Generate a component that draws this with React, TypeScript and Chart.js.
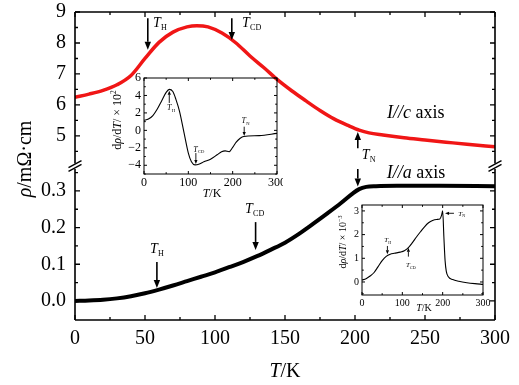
import React, { useEffect, useRef } from 'react';
import { Chart, registerables } from 'chart.js';
Chart.register(...registerables);

const SERIF = '"Liberation Serif", "Times New Roman", Times, serif';

// ---------- main chart data ----------
const T_C = [0, 10, 20, 30, 40, 50, 60, 70, 80, 87, 95, 105, 115, 125, 135, 145, 155, 165, 175, 185, 195, 203, 210, 220, 235, 250, 265, 280, 300];
const RHO_C = [6.25, 6.35, 6.47, 6.65, 6.95, 7.5, 8.02, 8.35, 8.52, 8.56, 8.52, 8.32, 8.0, 7.58, 7.2, 6.8, 6.45, 6.13, 5.82, 5.55, 5.34, 5.19, 5.1, 5.03, 4.94, 4.87, 4.8, 4.73, 4.65];
const T_A = [0, 10, 20, 30, 40, 50, 60, 70, 80, 90, 100, 110, 120, 130, 140, 150, 160, 170, 180, 190, 198, 203, 208, 215, 230, 260, 300];
const RHO_A = [0.0, 0.001, 0.003, 0.007, 0.013, 0.021, 0.031, 0.042, 0.054, 0.066, 0.078, 0.092, 0.106, 0.122, 0.14, 0.159, 0.183, 0.21, 0.238, 0.267, 0.292, 0.305, 0.311, 0.313, 0.314, 0.314, 0.313];
const X_TICKS = [0, 50, 100, 150, 200, 250, 300];
const X_MINOR = [25, 75, 125, 175, 225, 275];
const YC_TICKS = [5, 6, 7, 8, 9];
const YC_MINOR = [4.5, 5.5, 6.5, 7.5, 8.5];
const YA_TICKS = [0, 0.1, 0.2, 0.3];
const YA_MINOR = [0.05, 0.15, 0.25, 0.35];

// ---------- inset 1 (I//c derivative) ----------
const T_IN1 = [0, 10, 20, 30, 40, 50, 57, 65, 72, 80, 90, 100, 107, 115, 125, 135, 150, 165, 175, 183, 192, 200, 208, 217, 225, 260, 300];
const D_IN1 = [1.15, 1.3, 1.7, 2.45, 3.4, 4.35, 4.7, 4.45, 3.55, 2.2, -0.2, -2.6, -3.6, -3.95, -3.85, -3.6, -3.3, -2.8, -2.45, -2.35, -2.45, -1.95, -1.35, -0.9, -0.7, -0.6, -0.35];
const IN1_X_TICKS = [0, 100, 200, 300];
const IN1_X_MINOR = [50, 150, 250];
const IN1_Y_TICKS = [-4, -2, 0, 2, 4, 6];
const IN1_Y_MINOR = [-5, -3, -1, 1, 3, 5];

// ---------- inset 2 (I//a derivative) ----------
const T_IN2 = [0, 10, 20, 30, 40, 50, 60, 70, 80, 95, 105, 115, 125, 135, 145, 155, 165, 175, 185, 193, 197, 200, 203, 206, 209, 214, 225, 240, 260, 280, 300];
const D_IN2 = [0.08, 0.14, 0.25, 0.4, 0.65, 0.9, 1.08, 1.17, 1.21, 1.26, 1.32, 1.45, 1.66, 1.9, 2.12, 2.33, 2.5, 2.6, 2.64, 2.66, 2.8, 3.0, 1.9, 0.9, 0.45, 0.22, 0.1, 0.03, -0.03, -0.07, -0.1];
const IN2_X_TICKS = [0, 100, 200, 300];
const IN2_X_MINOR = [50, 150, 250];
const IN2_Y_TICKS = [0, 1, 2, 3];
const IN2_Y_MINOR = [-0.5, 0.5, 1.5, 2.5];

// ---------- annotations (data coordinates) ----------
const MAIN_ARROWS = [
  { axis: 'yc', x1: 52, y1: 8.8, x2: 52, y2: 7.78 },
  { axis: 'yc', x1: 112, y1: 8.8, x2: 112, y2: 8.1 },
  { axis: 'yc', x1: 202, y1: 4.6, x2: 202, y2: 5.13 },
  { axis: 'ya', x1: 202, y1: 0.36, x2: 202, y2: 0.312 },
  { axis: 'ya', x1: 58.5, y1: 0.106, x2: 58.5, y2: 0.035 },
  { axis: 'ya', x1: 129, y1: 0.215, x2: 129, y2: 0.139 },
];
const MAIN_TLABELS = [
  { axis: 'yc', x: 55.7, y: 8.53, sub: 'H' },
  { axis: 'yc', x: 119.3, y: 8.53, sub: 'CD' },
  { axis: 'yc', x: 204.8, y: 4.25, sub: 'N' },
  { axis: 'ya', x: 53.6, y: 0.13, sub: 'H' },
  { axis: 'ya', x: 121.4, y: 0.239, sub: 'CD' },
];
const MAIN_TEXTS = [
  { axis: 'yc', x: 222.8, y: 5.58, letter: 'c' },
  { axis: 'ya', x: 222.6, y: 0.335, letter: 'a' },
];
const IN1_ARROWS = [
  { x1: 57, y1: 3.14, x2: 57, y2: 4.55 },
  { x1: 117, y1: -2.6, x2: 117, y2: -3.85 },
  { x1: 226, y1: 0.42, x2: 226, y2: -0.65 },
];
const IN1_TLABELS = [
  { x: 52, y: 2.33, sub: 'H' },
  { x: 111, y: -2.44, sub: 'CD' },
  { x: 220, y: 0.81, sub: 'N' },
];
const IN2_ARROWS = [
  { x1: 63, y1: 1.52, x2: 63, y2: 1.17 },
  { x1: 115, y1: 1.07, x2: 115, y2: 1.45 },
  { x1: 228, y1: 2.9, x2: 206, y2: 2.9 },
];
const IN2_TLABELS = [
  { x: 55, y: 1.68, sub: 'H' },
  { x: 109, y: 0.62, sub: 'CD' },
  { x: 238.5, y: 2.79, sub: 'N' },
];

// ---------- drawing helpers ----------
type Seg = { t: string; it?: boolean; sup?: boolean };
function segFont(s: Seg, size: number) {
  const sz = s.sup ? size * 0.62 : size;
  return `${s.it ? 'italic ' : ''}${sz}px ${SERIF}`;
}
function drawRich(ctx: any, segs: Seg[], x: number, y: number, size: number, align: 'left' | 'center') {
  let w = 0;
  for (const s of segs) { ctx.font = segFont(s, size); w += ctx.measureText(s.t).width; }
  let cx = align === 'center' ? x - w / 2 : x;
  ctx.textAlign = 'left';
  ctx.textBaseline = 'alphabetic';
  for (const s of segs) {
    ctx.font = segFont(s, size);
    ctx.fillText(s.t, cx, s.sup ? y - size * 0.42 : y);
    cx += ctx.measureText(s.t).width;
  }
}
function drawTSub(ctx: any, x: number, y: number, sub: string, size: number) {
  ctx.textAlign = 'left';
  ctx.textBaseline = 'alphabetic';
  ctx.font = `italic ${size}px ${SERIF}`;
  ctx.fillText('T', x, y);
  const w = ctx.measureText('T').width;
  ctx.font = `${Math.max(4, size * 0.58)}px ${SERIF}`;
  ctx.fillText(sub, x + w + size * 0.02, y + size * 0.22);
}
function drawArrow(ctx: any, x1: number, y1: number, x2: number, y2: number, hl: number, hw: number, lw: number) {
  const ang = Math.atan2(y2 - y1, x2 - x1);
  const bx = x2 - hl * Math.cos(ang);
  const by = y2 - hl * Math.sin(ang);
  ctx.lineWidth = lw;
  ctx.beginPath();
  ctx.moveTo(x1, y1);
  ctx.lineTo(bx, by);
  ctx.stroke();
  ctx.beginPath();
  ctx.moveTo(x2, y2);
  ctx.lineTo(bx - hw * Math.sin(ang), by + hw * Math.cos(ang));
  ctx.lineTo(bx + hw * Math.sin(ang), by - hw * Math.cos(ang));
  ctx.closePath();
  ctx.fill();
}
function ticksX(ctx: any, sx: any, top: number, bottom: number, vals: number[], len: number) {
  ctx.beginPath();
  for (const v of vals) {
    const p = sx.getPixelForValue(v);
    ctx.moveTo(p, bottom); ctx.lineTo(p, bottom - len);
    ctx.moveTo(p, top); ctx.lineTo(p, top + len);
  }
  ctx.stroke();
}
function ticksY(ctx: any, sy: any, left: number, right: number, vals: number[], len: number) {
  ctx.beginPath();
  for (const v of vals) {
    if (v < sy.min || v > sy.max) continue;
    const p = sy.getPixelForValue(v);
    ctx.moveTo(left, p); ctx.lineTo(left + len, p);
    ctx.moveTo(right, p); ctx.lineTo(right - len, p);
  }
  ctx.stroke();
}
function resetPad(s: any) {
  s.paddingLeft = 0; s.paddingRight = 0; s.paddingTop = 0; s.paddingBottom = 0;
}

// ---------- main chart ----------
const mainDeco = {
  id: 'mainDeco',
  afterDraw(chart: any) {
    const ctx = chart.ctx;
    const a = chart.chartArea;
    const sx = chart.scales.x, yc = chart.scales.yc, ya = chart.scales.ya;
    const brk = yc.bottom;
    ctx.save();
    ctx.strokeStyle = '#000';
    ctx.fillStyle = '#000';
    ctx.lineWidth = 1.6;
    ctx.beginPath();
    ctx.moveTo(a.left, a.top); ctx.lineTo(a.right, a.top);
    ctx.moveTo(a.left, a.bottom); ctx.lineTo(a.right, a.bottom);
    for (const xx of [a.left, a.right]) {
      ctx.moveTo(xx, a.top); ctx.lineTo(xx, brk - 2.5);
      ctx.moveTo(xx, brk + 3); ctx.lineTo(xx, a.bottom);
    }
    ctx.stroke();
    // break marks
    ctx.lineWidth = 1.4;
    ctx.beginPath();
    for (const xx of [a.left, a.right]) {
      for (const off of [-1.8, 1.8]) {
        ctx.moveTo(xx - 6.5, brk + off + 3.5);
        ctx.lineTo(xx + 6.5, brk + off - 3.5);
      }
    }
    ctx.stroke();
    // ticks
    ctx.lineWidth = 1.3;
    ticksX(ctx, sx, a.top, a.bottom, X_TICKS, 5);
    ticksX(ctx, sx, a.top, a.bottom, X_MINOR, 3);
    ticksY(ctx, yc, a.left, a.right, YC_TICKS, 5);
    ticksY(ctx, yc, a.left, a.right, YC_MINOR, 3);
    ticksY(ctx, ya, a.left, a.right, YA_TICKS, 5);
    ticksY(ctx, ya, a.left, a.right, YA_MINOR, 3);
    // axis titles
    drawRich(ctx, [{ t: 'T', it: true }, { t: '/K' }], (a.left + a.right) / 2, 377, 20, 'center');
    ctx.save();
    ctx.translate(31, 159);
    ctx.rotate(-Math.PI / 2);
    drawRich(ctx, [{ t: 'ρ', it: true }, { t: '/mΩ·cm' }], 0, 0, 20, 'center');
    ctx.restore();
    // annotations
    for (const ar of MAIN_ARROWS) {
      const sy = chart.scales[ar.axis];
      drawArrow(ctx, sx.getPixelForValue(ar.x1), sy.getPixelForValue(ar.y1), sx.getPixelForValue(ar.x2), sy.getPixelForValue(ar.y2), 8, 3.2, 1.6);
    }
    for (const lb of MAIN_TLABELS) {
      const sy = chart.scales[lb.axis];
      drawTSub(ctx, sx.getPixelForValue(lb.x), sy.getPixelForValue(lb.y), lb.sub, 14);
    }
    for (const tx of MAIN_TEXTS) {
      const sy = chart.scales[tx.axis];
      drawRich(ctx, [{ t: 'I', it: true }, { t: '//', it: true }, { t: tx.letter, it: true }, { t: ' axis' }], sx.getPixelForValue(tx.x), sy.getPixelForValue(tx.y), 18, 'left');
    }
    ctx.restore();
  },
};

function makeMain(canvas: HTMLCanvasElement) {
  const font = { family: SERIF, size: 20 };
  const noGrid = { display: false, drawTicks: false };
  return new Chart(canvas, {
    type: 'line',
    data: {
      datasets: [
        {
          data: T_C.map((t, i) => ({ x: t, y: RHO_C[i] })),
          xAxisID: 'x', yAxisID: 'yc',
          borderColor: '#f01616', borderWidth: 3.5, pointRadius: 0,
          cubicInterpolationMode: 'monotone', fill: false,
        },
        {
          data: T_A.map((t, i) => ({ x: t, y: RHO_A[i] })),
          xAxisID: 'x', yAxisID: 'ya',
          borderColor: '#000', borderWidth: 4, pointRadius: 0,
          cubicInterpolationMode: 'monotone', fill: false,
        },
      ],
    },
    options: {
      responsive: false, animation: false, devicePixelRatio: 1, events: [],
      layout: { padding: { left: 0, right: 24, top: 12, bottom: 0 } },
      plugins: { legend: { display: false }, tooltip: { enabled: false } },
      scales: {
        x: {
          type: 'linear', position: 'bottom', min: 0, max: 300,
          afterBuildTicks: (s: any) => { s.ticks = X_TICKS.map((v) => ({ value: v })); },
          afterFit: (s: any) => { s.height = 65; resetPad(s); },
          grid: noGrid, border: { display: false },
          ticks: { font, color: '#000', padding: 7, maxRotation: 0, autoSkip: false, callback: (v: any) => String(v) },
        },
        ya: {
          type: 'linear', position: 'left', stack: 'rho', stackWeight: 1, min: -0.052, max: 0.368,
          afterBuildTicks: (s: any) => { s.ticks = YA_TICKS.map((v) => ({ value: v })); },
          afterFit: (s: any) => { s.width = 75; resetPad(s); },
          grid: noGrid, border: { display: false },
          ticks: { font, color: '#000', padding: 9, autoSkip: false, callback: (v: any) => Number(v).toFixed(1) },
        },
        yc: {
          type: 'linear', position: 'left', stack: 'rho', stackWeight: 1, min: 4.03, max: 9,
          afterBuildTicks: (s: any) => { s.ticks = YC_TICKS.map((v) => ({ value: v })); },
          afterFit: (s: any) => { s.width = 75; resetPad(s); },
          grid: noGrid, border: { display: false },
          ticks: { font, color: '#000', padding: 9, autoSkip: false, callback: (v: any) => String(v) },
        },
      },
    } as any,
    plugins: [mainDeco],
  } as any);
}

// ---------- insets ----------
function makeInset(canvas: HTMLCanvasElement, o: any) {
  const font = { family: SERIF, size: o.fs };
  const noGrid = { display: false, drawTicks: false };
  const deco = {
    id: 'insetDeco',
    afterDraw(chart: any) {
      const ctx = chart.ctx;
      const a = chart.chartArea;
      const sx = chart.scales.x, sy = chart.scales.y;
      ctx.save();
      ctx.strokeStyle = '#000';
      ctx.fillStyle = '#000';
      ctx.lineWidth = 1;
      ctx.strokeRect(a.left, a.top, a.right - a.left, a.bottom - a.top);
      ticksX(ctx, sx, a.top, a.bottom, o.xTicks, 3);
      ticksX(ctx, sx, a.top, a.bottom, o.xMinor, 1.8);
      ticksY(ctx, sy, a.left, a.right, o.yTicks, 3);
      ticksY(ctx, sy, a.left, a.right, o.yMinor, 1.8);
      drawRich(ctx, [{ t: 'T', it: true }, { t: '/K' }], o.xtX, o.xtY, o.fs, 'center');
      ctx.save();
      ctx.translate(o.ytX, o.ytY);
      ctx.rotate(-Math.PI / 2);
      drawRich(ctx, [{ t: 'd' }, { t: 'ρ', it: true }, { t: '/d' }, { t: 'T', it: true }, { t: '/ × 10' }, { t: o.exp, sup: true }], 0, 0, o.fs, 'center');
      ctx.restore();
      for (const ar of o.arrows) {
        drawArrow(ctx, sx.getPixelForValue(ar.x1), sy.getPixelForValue(ar.y1), sx.getPixelForValue(ar.x2), sy.getPixelForValue(ar.y2), 4, 1.6, 0.9);
      }
      for (const lb of o.labels) {
        drawTSub(ctx, sx.getPixelForValue(lb.x), sy.getPixelForValue(lb.y), lb.sub, o.ls);
      }
      ctx.restore();
    },
  };
  return new Chart(canvas, {
    type: 'line',
    data: {
      datasets: [{
        data: o.xs.map((t: number, i: number) => ({ x: t, y: o.ys[i] })),
        borderColor: '#000', borderWidth: 1.1, pointRadius: 0,
        cubicInterpolationMode: 'monotone', fill: false,
      }],
    },
    options: {
      responsive: false, animation: false, devicePixelRatio: 1, events: [],
      layout: { padding: o.pad },
      plugins: { legend: { display: false }, tooltip: { enabled: false } },
      scales: {
        x: {
          type: 'linear', min: 0, max: 300,
          afterBuildTicks: (s: any) => { s.ticks = o.xTicks.map((v: number) => ({ value: v })); },
          afterFit: (s: any) => { s.height = o.xH; resetPad(s); },
          grid: noGrid, border: { display: false },
          ticks: { font, color: '#000', padding: o.xPad, maxRotation: 0, autoSkip: false, callback: (v: any) => String(v) },
        },
        y: {
          type: 'linear', min: o.yMin, max: o.yMax,
          afterBuildTicks: (s: any) => { s.ticks = o.yTicks.map((v: number) => ({ value: v })); },
          afterFit: (s: any) => { s.width = o.yW; resetPad(s); },
          grid: noGrid, border: { display: false },
          ticks: { font, color: '#000', padding: o.yPad, autoSkip: false, callback: (v: any) => (v < 0 ? '−' + Math.abs(v) : String(v)) },
        },
      },
    } as any,
    plugins: [deco],
  } as any);
}

export default function App() {
  const mainRef = useRef<HTMLCanvasElement>(null);
  const in1Ref = useRef<HTMLCanvasElement>(null);
  const in2Ref = useRef<HTMLCanvasElement>(null);
  useEffect(() => {
    const charts = [
      makeMain(mainRef.current!),
      makeInset(in1Ref.current!, {
        xs: T_IN1, ys: D_IN1, xTicks: IN1_X_TICKS, xMinor: IN1_X_MINOR, yTicks: IN1_Y_TICKS, yMinor: IN1_Y_MINOR,
        yMin: -5, yMax: 6, fs: 12, ls: 8, exp: '2',
        pad: { left: 0, right: 6, top: 8, bottom: 0 }, xH: 28, yW: 44, xPad: 2, yPad: 3,
        xtX: 112, xtY: 127, ytX: 21, ytY: 50,
        arrows: IN1_ARROWS, labels: IN1_TLABELS,
      }),
      makeInset(in2Ref.current!, {
        xs: T_IN2, ys: D_IN2, xTicks: IN2_X_TICKS, xMinor: IN2_X_MINOR, yTicks: IN2_Y_TICKS, yMinor: IN2_Y_MINOR,
        yMin: -0.55, yMax: 3.25, fs: 10, ls: 7, exp: '−3',
        pad: { left: 0, right: 27, top: 10, bottom: 0 }, xH: 25, yW: 42, xPad: 2, yPad: 3,
        xtX: 104, xtY: 116, ytX: 26, ytY: 47,
        arrows: IN2_ARROWS, labels: IN2_TLABELS,
      }),
    ];
    return () => charts.forEach((c) => c.destroy());
  }, []);
  return (
    <div style={{ position: 'fixed', left: 0, top: 0, width: 519, height: 385, background: '#fff', overflow: 'hidden' }}>
      <canvas ref={mainRef} width={519} height={385} style={{ position: 'absolute', left: 0, top: 0, width: 519, height: 385 }} />
      <canvas ref={in1Ref} width={183} height={132} style={{ position: 'absolute', left: 100, top: 70, width: 183, height: 132 }} />
      <canvas ref={in2Ref} width={190} height={125} style={{ position: 'absolute', left: 320, top: 195, width: 190, height: 125 }} />
    </div>
  );
}
